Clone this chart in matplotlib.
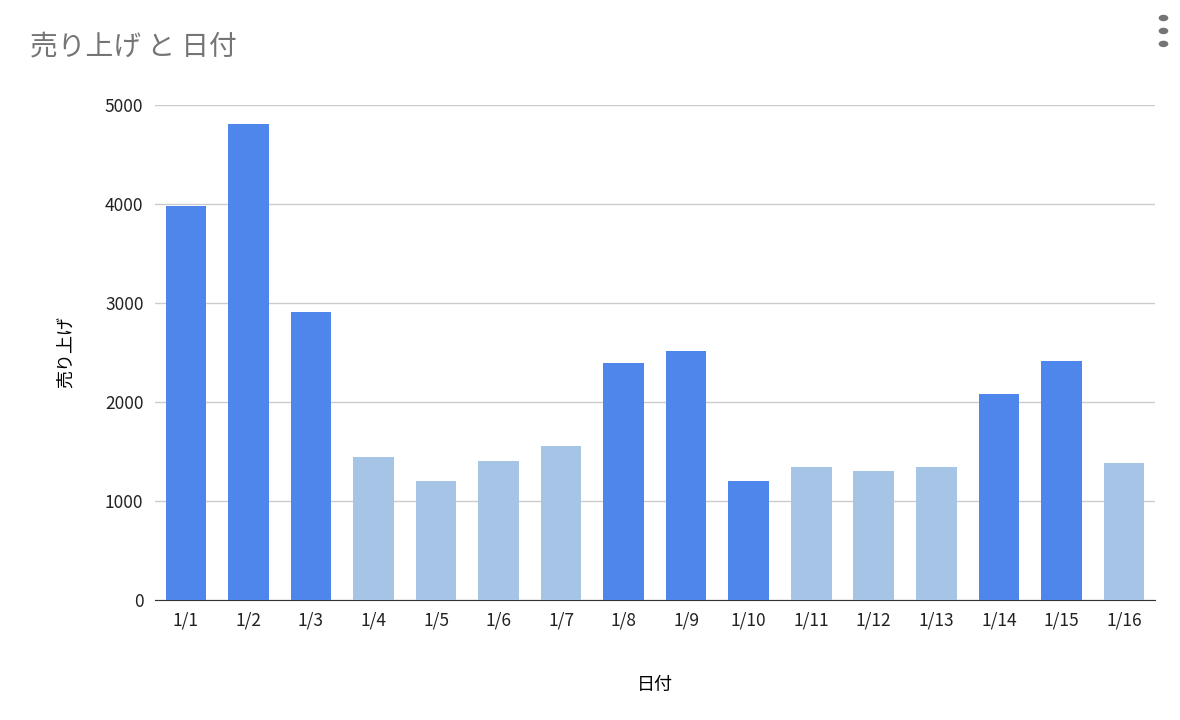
import matplotlib.pyplot as plt

plt.rcParams['font.family'] = ['Noto Sans CJK JP', 'DejaVu Sans']

dates = ["1/1", "1/2", "1/3", "1/4", "1/5", "1/6", "1/7", "1/8",
         "1/9", "1/10", "1/11", "1/12", "1/13", "1/14", "1/15", "1/16"]
sales = [3980, 4810, 2910, 1440, 1200, 1400, 1560, 2390,
         2510, 1200, 1340, 1300, 1340, 2080, 2410, 1380]
highlight = [1, 1, 1, 0, 0, 0, 0, 1, 1, 1, 0, 0, 0, 1, 1, 0]

dark = "#4f86ec"
light = "#a6c4e5"
colors = [dark if h else light for h in highlight]

fig = plt.figure(figsize=(11.8, 7.2), dpi=100)
ax = fig.add_axes([0.131, 0.1667, 0.848, 0.6875])

x = range(len(dates))
ax.bar(x, sales, width=0.65, color=colors, zorder=3)
ax.set_xlim(-0.5, len(dates) - 0.5)
ax.set_ylim(0, 5000)
ax.set_yticks(range(0, 5001, 1000))
ax.set_xticks(list(x))
ax.set_xticklabels(dates)
ax.grid(axis="y", color="#cccccc", linewidth=1, zorder=0)
for s in ["top", "right", "left"]:
    ax.spines[s].set_visible(False)
ax.spines["bottom"].set_color("#333333")
ax.tick_params(axis="both", length=0, labelsize=12.5, colors="#222222", pad=8)
ax.set_xlabel("日付", fontsize=13, labelpad=34)
ax.set_ylabel("売り上げ", fontsize=13, labelpad=22)

fig.text(0.025, 0.935, "売り上げ と 日付", fontsize=20, color="#757575", va="center")
for dy in (0.0, 0.018, 0.036):
    fig.patches.append(plt.Circle((0.986, 0.975 - dy), 0.0035, transform=fig.transFigure,
                                  color="#757575"))

fig.savefig("out.png", dpi=100)
